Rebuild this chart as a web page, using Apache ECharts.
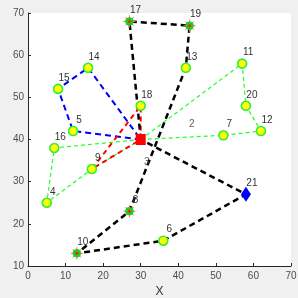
<!DOCTYPE html>
<html><head><meta charset="utf-8">
<script src="https://cdn.jsdelivr.net/npm/echarts@6/dist/echarts.min.js"></script>
<style>html,body{margin:0;padding:0;background:#f0f0f0}#c{width:298px;height:298px}</style>
</head><body><div id="c"></div>
<script>
// node ids (1 = depot)
const nodeIds = [1,2,3,4,5,6,7,8,9,10,11,12,13,14,15,16,17,18,19,20,21];
const nodeX   = [30,42,30,5,12,36,52,27,17,13,57,62,42,16,8,7,27,30,43,58,58];
const nodeY   = [40,41,32,25,42,16,41,23,33,13,58,42,57,57,52,38,68,48,67,48,27];
// routes as node-id sequences
const routeBlack = [1,17,19,13,8,10,6,21,1];
const routeBlue  = [1,5,15,14,1];
const routeRed   = [1,18,9,1];
const routeGreenA = [1,16,4,9,1];
const routeGreenB = [1,11,20,12,7,1];
// marker groups
const normalNodes  = [4,5,6,7,9,11,12,13,14,15,16,18,20];
const specialNodes = [8,10,17,19];
const depotNode = [1];
const diamondNode = [21];
const labelOnlyNodes = [2,3];
const xTicks = [0,10,20,30,40,50,60,70];
const yTicks = [10,20,30,40,50,60,70];

function pt(id){const i=nodeIds.indexOf(id);return [nodeX[i],nodeY[i],id];}
function routeLine(route,color,width,dash){
  return {type:'line',data:route.map(pt),symbol:'none',silent:true,z:2,
    lineStyle:{color:color,width:width,type:dash}};
}
const lbl = {show:true,position:'inside',offset:[6,-11],color:'#333',fontSize:10,
  fontFamily:'Liberation Sans',formatter:p=>String(p.data[2])};

const chart = echarts.init(document.getElementById('c'));
chart.setOption({
  backgroundColor:'#f0f0f0',
  animation:false,
  grid:{left:28,right:7,top:13,bottom:32,show:true,backgroundColor:'#fff',borderWidth:0,
    containLabel:false,outerBoundsMode:'none'},
  xAxis:{type:'value',min:xTicks[0],max:xTicks[xTicks.length-1],interval:10,
    name:'X',nameLocation:'middle',nameGap:18,
    nameTextStyle:{color:'#333',fontSize:12,fontFamily:'Liberation Sans'},
    axisLine:{show:true,onZero:false,lineStyle:{color:'#262626',width:1}},
    axisTick:{show:true,inside:true,length:3,lineStyle:{color:'#262626'}},
    axisLabel:{color:'#4d4d4d',fontSize:10,margin:5,fontFamily:'Liberation Sans'},
    splitLine:{show:false}},
  yAxis:{type:'value',min:yTicks[0],max:yTicks[yTicks.length-1],interval:10,
    name:'Y',nameLocation:'middle',nameGap:17,nameRotate:90,
    nameTextStyle:{color:'#333',fontSize:12,fontFamily:'Liberation Sans'},
    axisLine:{show:true,onZero:false,lineStyle:{color:'#262626',width:1}},
    axisTick:{show:true,inside:true,length:3,lineStyle:{color:'#262626'}},
    axisLabel:{color:'#4d4d4d',fontSize:10,margin:4,fontFamily:'Liberation Sans'},
    splitLine:{show:false}},
  series:[
    routeLine(routeGreenA,'#22ff22',1.2,[4,3]),
    routeLine(routeGreenB,'#22ff22',1.2,[4,3]),
    routeLine(routeBlue,'#0000ff',2,[6,4]),
    routeLine(routeRed,'#ff0000',2,[5,4]),
    routeLine(routeBlack,'#000000',2.5,[6,4]),
    {type:'scatter',data:labelOnlyNodes.map(pt),symbolSize:0,z:3,label:lbl,silent:true},
    {type:'scatter',data:normalNodes.map(pt),symbol:'circle',symbolSize:9,z:4,
      itemStyle:{color:'#ffff00',borderColor:'#33ee33',borderWidth:1.6,opacity:1},label:lbl},
    {type:'scatter',data:specialNodes.map(pt),symbol:'path://M0,5L10,5M5,0L5,10M1.5,1.5L8.5,8.5M8.5,1.5L1.5,8.5',
      symbolSize:12,z:4,itemStyle:{color:'none',borderColor:'#ff6666',borderWidth:1,opacity:1}},
    {type:'scatter',data:specialNodes.map(pt),symbol:'circle',symbolSize:8,z:5,
      itemStyle:{color:'#22cc22',borderColor:'#22cc22',borderWidth:0.5,opacity:1},label:lbl},
    {type:'scatter',data:specialNodes.map(pt),symbol:'circle',symbolSize:3,z:6,
      itemStyle:{color:'#ff2200',opacity:1}},
    {type:'scatter',data:depotNode.map(pt),symbol:'rect',symbolSize:[10,11],z:6,
      itemStyle:{color:'#ff0000',opacity:1}},
    {type:'scatter',data:diamondNode.map(pt),symbol:'diamond',symbolSize:[10,15],z:6,
      itemStyle:{color:'#0000ff',opacity:1},label:lbl}
  ]
});
</script></body></html>
